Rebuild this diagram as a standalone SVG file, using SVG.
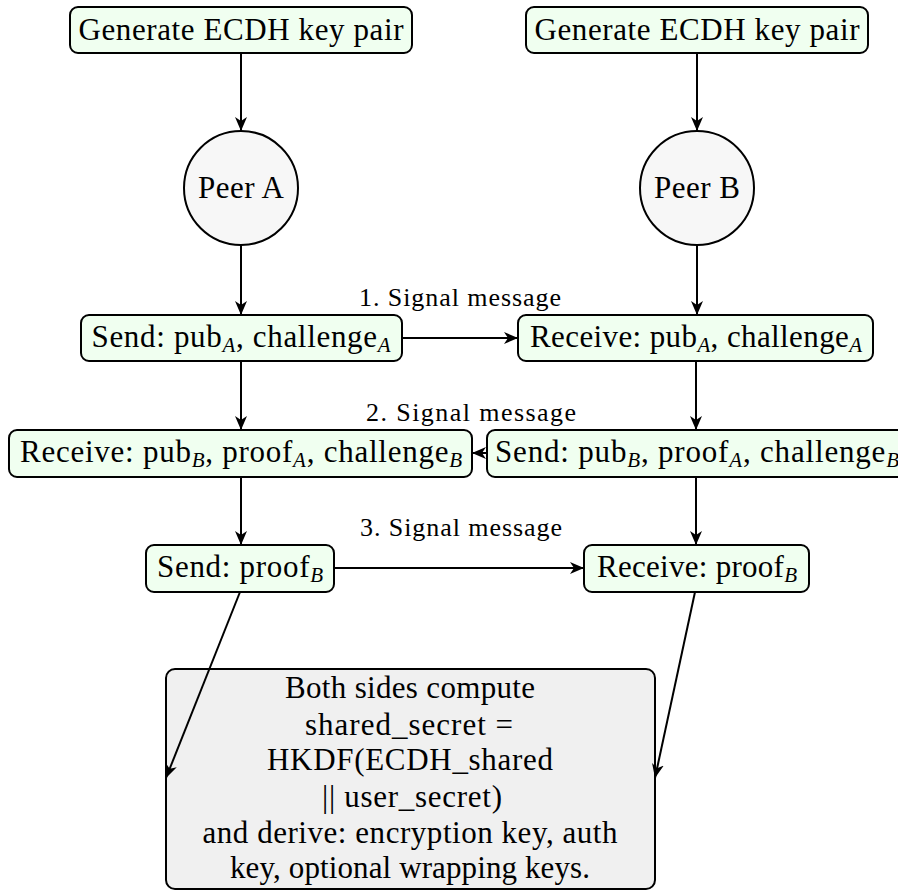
<svg xmlns="http://www.w3.org/2000/svg" width="898" height="892" viewBox="0 0 898 892">
<style>
  .box { fill: #f0fff0; stroke: #000; stroke-width: 2; }
  .circ { fill: #f7f7f7; stroke: #000; stroke-width: 2; }
  .big { fill: #f0f0f0; stroke: #000; stroke-width: 2; }
  .t { font-family: "Liberation Serif", "Times New Roman", serif; font-size: 31px; fill: #000; text-anchor: middle; }
  .lbl { font-family: "Liberation Serif", "Times New Roman", serif; font-size: 26px; fill: #000; text-anchor: middle; }
  .sub { font-size: 21px; font-style: italic; }
  .edge { fill: none; stroke: #000; stroke-width: 2; marker-end: url(#arr); }
</style>
<defs>
  <marker id="arr" markerUnits="userSpaceOnUse" markerWidth="15" markerHeight="13" refX="14" refY="6.5" orient="auto">
    <path d="M0,0.5 L14,6.5 L0,12.5 L4,6.5 z" fill="#000"/>
  </marker>
</defs>
<rect width="898" height="892" fill="#fff"/>

<g id="genA">
  <rect class="box" x="70" y="7" width="342" height="46" rx="8"/>
  <text class="t" x="241" y="40" textLength="325" lengthAdjust="spacing">Generate ECDH key pair</text>
</g>
<g id="genB">
  <rect class="box" x="526" y="7" width="342" height="46" rx="8"/>
  <text class="t" x="697" y="40" textLength="325" lengthAdjust="spacing">Generate ECDH key pair</text>
</g>
<g id="peerA">
  <circle class="circ" cx="241" cy="188" r="57"/>
  <text class="t" x="241" y="198" textLength="86" lengthAdjust="spacing">Peer A</text>
</g>
<g id="peerB">
  <circle class="circ" cx="697" cy="188" r="57"/>
  <text class="t" x="697" y="198" textLength="86" lengthAdjust="spacing">Peer B</text>
</g>
<g id="sendA">
  <rect class="box" x="81" y="315" width="321" height="46" rx="8"/>
  <text class="t" x="241" y="347" textLength="299" lengthAdjust="spacing">Send: pub<tspan class="sub" dy="5">A</tspan><tspan dy="-5">, challenge</tspan><tspan class="sub" dy="5">A</tspan></text>
</g>
<g id="recvA">
  <rect class="box" x="518" y="315" width="355" height="46" rx="8"/>
  <text class="t" x="696" y="347" textLength="332" lengthAdjust="spacing">Receive: pub<tspan class="sub" dy="5">A</tspan><tspan dy="-5">, challenge</tspan><tspan class="sub" dy="5">A</tspan></text>
</g>
<g id="recvB">
  <rect class="box" x="9" y="430" width="463" height="47" rx="8"/>
  <text class="t" x="241" y="462" textLength="442" lengthAdjust="spacing">Receive: pub<tspan class="sub" dy="5">B</tspan><tspan dy="-5">, proof</tspan><tspan class="sub" dy="5">A</tspan><tspan dy="-5">, challenge</tspan><tspan class="sub" dy="5">B</tspan></text>
</g>
<g id="sendB">
  <rect class="box" x="487" y="430" width="420" height="47" rx="8"/>
  <text class="t" x="697" y="462" textLength="404" lengthAdjust="spacing">Send: pub<tspan class="sub" dy="5">B</tspan><tspan dy="-5">, proof</tspan><tspan class="sub" dy="5">A</tspan><tspan dy="-5">, challenge</tspan><tspan class="sub" dy="5">B</tspan></text>
</g>
<g id="sendProof">
  <rect class="box" x="146" y="545" width="188" height="47" rx="8"/>
  <text class="t" x="240" y="577" textLength="166" lengthAdjust="spacing">Send: proof<tspan class="sub" dy="5">B</tspan></text>
</g>
<g id="recvProof">
  <rect class="box" x="584" y="545" width="225" height="47" rx="8"/>
  <text class="t" x="697" y="577" textLength="200" lengthAdjust="spacing">Receive: proof<tspan class="sub" dy="5">B</tspan></text>
</g>
<g id="shared">
  <rect class="big" x="166" y="669" width="489" height="220" rx="9"/>
  <text class="t" x="410" y="698" textLength="250" lengthAdjust="spacing">Both sides compute</text>
  <text class="t" x="409" y="735" textLength="208" lengthAdjust="spacing">shared_secret =</text>
  <text class="t" x="410" y="770" textLength="286" lengthAdjust="spacing">HKDF(ECDH_shared</text>
  <text class="t" x="412" y="807" textLength="180" lengthAdjust="spacing">|| user_secret)</text>
  <text class="t" x="410" y="843" textLength="415" lengthAdjust="spacing">and derive: encryption key, auth</text>
  <text class="t" x="410" y="878" textLength="360" lengthAdjust="spacing">key, optional wrapping keys.</text>
</g>

<g id="connectors">
  <line class="edge" x1="241" y1="53" x2="241" y2="131"/>
  <line class="edge" x1="697" y1="53" x2="697" y2="131"/>
  <line class="edge" x1="241" y1="245" x2="241" y2="315"/>
  <line class="edge" x1="697" y1="245" x2="697" y2="315"/>
  <line class="edge" x1="241" y1="361" x2="241" y2="430"/>
  <line class="edge" x1="696" y1="361" x2="696" y2="430"/>
  <line class="edge" x1="241" y1="477" x2="241" y2="545"/>
  <line class="edge" x1="696" y1="477" x2="696" y2="545"/>
  <line class="edge" x1="402" y1="338" x2="518" y2="338"/>
  <line class="edge" x1="487" y1="453" x2="472" y2="453"/>
  <line class="edge" x1="334" y1="568" x2="584" y2="568"/>
  <line class="edge" x1="240" y1="592" x2="166" y2="778"/>
  <line class="edge" x1="695" y1="592" x2="655" y2="778"/>
  <text class="lbl" x="460" y="306" textLength="202" lengthAdjust="spacing">1. Signal message</text>
  <text class="lbl" x="471" y="421" textLength="210" lengthAdjust="spacing">2. Signal message</text>
  <text class="lbl" x="461" y="536" textLength="202" lengthAdjust="spacing">3. Signal message</text>
</g>
</svg>
